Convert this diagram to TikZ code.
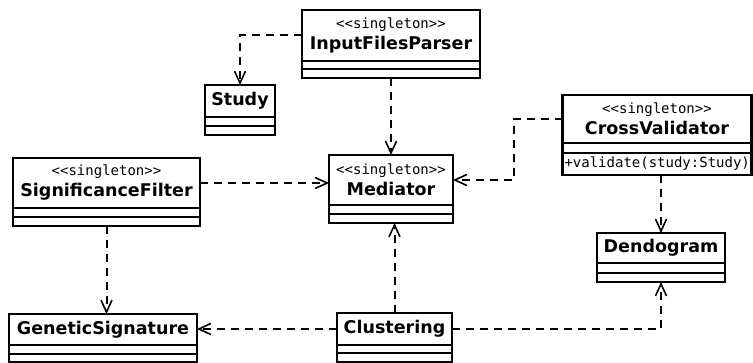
\documentclass[tikz,border=0pt]{standalone}
\usepackage{fontspec}
\setmainfont{DejaVu Sans}
\setmonofont{DejaVu Sans Mono}
\usetikzlibrary{arrows.meta,positioning}

\tikzset{
  cls/.style={draw, line width=2.2pt, outer sep=0pt, inner sep=2pt, align=center,
    font=\fontsize{17.5}{21}\selectfont\bfseries},
  comp/.style={draw, line width=2.2pt, outer sep=0pt, inner sep=0pt, minimum height=#1},
  dep/.style={line width=2pt, dash pattern=on 8pt off 6pt,
    -{Straight Barb[length=12pt,width=11pt,line width=1.6pt]}},
}
\newcommand{\stereo}{{\fontsize{14}{17}\selectfont\mdseries\ttfamily <<singleton>>}}

\begin{document}
\begin{tikzpicture}[x=1pt, y=-1pt]
  \useasboundingbox (0,0) rectangle (753,363);
  % classes
  \node[cls, minimum width=178, minimum height=51] (parser) at (391,35.5) {\stereo\\InputFilesParser};
  \node[comp=8, minimum width=178, below=0pt of parser] (parser-a) {};
  \node[comp=9, minimum width=178, below=0pt of parser-a] (parser-o) {};

  \node[cls, minimum width=70, minimum height=32] (study) at (240,101) {Study};
  \node[comp=9, minimum width=70, below=0pt of study] (study-a) {};
  \node[comp=9, minimum width=70, below=0pt of study-a] (study-o) {};

  \node[cls, minimum width=124, minimum height=50] (med) at (391,180) {\stereo\\Mediator};
  \node[comp=9, minimum width=124, below=0pt of med] (med-a) {};
  \node[comp=9, minimum width=124, below=0pt of med-a] (med-o) {};

  \node[cls, minimum width=189, minimum height=48] (cv) at (657,119) {\stereo\\CrossValidator};
  \node[comp=10, minimum width=189, below=0pt of cv] (cv-a) {};
  \node[comp=22, text width=185, inner xsep=2pt, align=left, below=0pt of cv-a,
    font=\fontsize{14}{17}\selectfont\ttfamily] (cv-o) {+validate(study:Study)};

  \node[cls, minimum width=187, minimum height=50] (sig) at (106.5,183) {\stereo\\SignificanceFilter};
  \node[comp=9, minimum width=187, below=0pt of sig] (sig-a) {};
  \node[comp=9, minimum width=187, below=0pt of sig-a] (sig-o) {};

  \node[cls, minimum width=188, minimum height=31] (gen) at (103,329.5) {GeneticSignature};
  \node[comp=9, minimum width=188, below=0pt of gen] (gen-a) {};
  \node[comp=8, minimum width=188, below=0pt of gen-a] (gen-o) {};

  \node[cls, minimum width=115, minimum height=32] (clu) at (394.5,329) {Clustering};
  \node[comp=8, minimum width=115, below=0pt of clu] (clu-a) {};
  \node[comp=9, minimum width=115, below=0pt of clu-a] (clu-o) {};

  \node[cls, minimum width=128, minimum height=30] (dendo) at (661,248) {Dendogram};
  \node[comp=10, minimum width=128, below=0pt of dendo] (dendo-a) {};
  \node[comp=9, minimum width=128, below=0pt of dendo-a] (dendo-o) {};

  % dependencies
  \draw[dep] (parser.west) -| (study.north);
  \draw[dep] (parser-o.south) -- (med.north);
  \draw[dep] (cv.west) -- ++(-49,0) |- (med.east);
  \draw[dep] (dendo.north |- cv-o.south) -- (dendo.north);
  \draw[dep] (sig.east) -- (sig.east -| med.west);
  \draw[dep] (sig-o.south) -- (sig-o.south |- gen.north);
  \draw[dep] (clu.north) -- (clu.north |- med-o.south);
  \draw[dep] (clu.west) -- (clu.west -| gen.east);
  \draw[dep] (clu.east) -| (dendo-o.south);
\end{tikzpicture}
\end{document}
